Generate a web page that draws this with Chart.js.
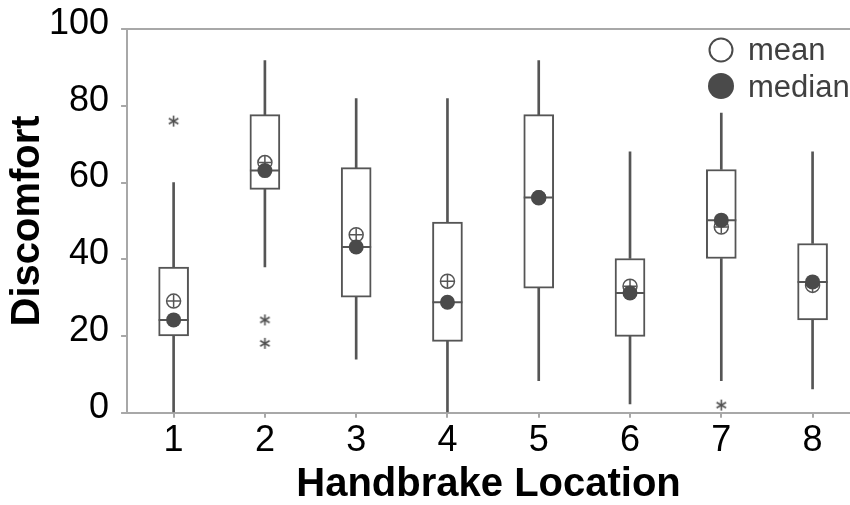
<!DOCTYPE html>
<html>
<head>
<meta charset="utf-8">
<script src="https://cdn.jsdelivr.net/npm/chart.js@4.4.1/dist/chart.umd.min.js"></script>
<style>
html,body{margin:0;padding:0;background:#fff;overflow:hidden;}
#wrap{width:850px;height:505px;overflow:hidden;}
#c{display:block;}
</style>
</head>
<body>
<div id="wrap"><canvas id="c" width="850" height="505"></canvas></div>
<script>
// ---- data ----
const categories  = ['1','2','3','4','5','6','7','8'];
const whiskerLow  = [0, 38, 14, 0, 8.4, 2.3, 8.4, 6.2];
const q1          = [20, 58.2, 30.1, 18.6, 32.5, 19.9, 40.2, 24.2];
const medians     = [24.2, 63.1, 43.2, 28.8, 56.1, 31.2, 50.2, 34.1];
const q3          = [38, 77.7, 63.9, 49.7, 77.7, 40.2, 63.4, 44.1];
const whiskerHigh = [60, 91.8, 81.9, 81.9, 91.8, 68, 78.1, 68];
const means       = [29.1, 65.2, 46.4, 34.3, 56.0, 33.0, 48.4, 33.2];
const outlierGroup = [1, 2, 2, 7];
const outlierValue = [76, 24.2, 18.1, 2];
const yTicks = [0, 20, 40, 60, 80, 100];

const INK = '#555555';
const DOT = '#4a4a4a';
const AXIS = '#a8a8a8';
const FONT = "'Liberation Sans', Arial, sans-serif";

const xs = categories.map((c, i) => i + 1);

// asterisk point style
function makeAsterisk(size, color) {
  const cv = document.createElement('canvas');
  cv.width = size; cv.height = size;
  const g = cv.getContext('2d');
  g.strokeStyle = color; g.lineWidth = 1.6; g.lineCap = 'butt';
  const c = size / 2, r = size / 2 - 1;
  for (const a of [90, 30, -30]) {
    const rad = a * Math.PI / 180;
    g.beginPath();
    g.moveTo(c - Math.cos(rad) * r, c - Math.sin(rad) * r);
    g.lineTo(c + Math.cos(rad) * r, c + Math.sin(rad) * r);
    g.stroke();
  }
  return cv;
}
const asterisk = makeAsterisk(13, '#505050');

const boxData = xs.map((x, i) => ({x, y: [q1[i], q3[i]]}));
const lowWhisk = xs.map((x, i) => ({x, y: [whiskerLow[i], q1[i]]}));
const highWhisk = xs.map((x, i) => ({x, y: [q3[i], whiskerHigh[i]]}));
const medPts = xs.map((x, i) => ({x, y: medians[i]}));
const meanPts = xs.map((x, i) => ({x, y: means[i]}));
const outPts = outlierGroup.map((g, i) => ({x: g, y: outlierValue[i]}));

const frameAndLegend = {
  id: 'frameAndLegend',
  afterDraw(chart) {
    const {ctx, chartArea} = chart;
    ctx.save();
    ctx.strokeStyle = AXIS; ctx.lineWidth = 2;
    ctx.beginPath();
    ctx.moveTo(chartArea.left - 1, chartArea.top);
    ctx.lineTo(chart.width, chartArea.top);
    ctx.stroke();
    // legend (anchored to the visible right edge)
    const cx = 721;
    ctx.strokeStyle = DOT; ctx.lineWidth = 2;
    ctx.fillStyle = '#fff';
    ctx.beginPath(); ctx.arc(cx, chartArea.top + 21, 11.5, 0, Math.PI * 2); ctx.fill(); ctx.stroke();
    ctx.fillStyle = DOT;
    ctx.beginPath(); ctx.arc(cx, chartArea.top + 57, 13, 0, Math.PI * 2); ctx.fill();
    ctx.fillStyle = '#404040';
    ctx.font = '31px ' + FONT;
    ctx.textBaseline = 'alphabetic';
    ctx.textAlign = 'left';
    ctx.fillText('mean', cx + 27, chartArea.top + 31);
    ctx.fillText('median', cx + 27, chartArea.top + 68);
    ctx.restore();
  }
};

const canvas = document.getElementById('c');
canvas.width = 867;

new Chart(canvas, {
  type: 'bar',
  data: {
    datasets: [
      { label: 'box', data: boxData, backgroundColor: '#ffffff', borderColor: INK,
        borderWidth: 2, borderSkipped: false, barThickness: 30, grouped: false, order: 6 },
      { label: 'lowWhisker', data: lowWhisk, backgroundColor: INK, borderWidth: 0,
        barThickness: 2, grouped: false, order: 7 },
      { label: 'highWhisker', data: highWhisk, backgroundColor: INK, borderWidth: 0,
        barThickness: 2, grouped: false, order: 7 },
      { type: 'scatter', label: 'medianLine', data: medPts, pointStyle: 'line',
        pointRadius: 15, borderColor: INK, borderWidth: 2, order: 5 },
      { type: 'scatter', label: 'mean', data: meanPts, pointStyle: 'circle',
        pointRadius: 7, backgroundColor: 'rgba(255,255,255,0)', borderColor: INK, borderWidth: 1.5, order: 4 },
      { type: 'scatter', label: 'meanPlus', data: meanPts, pointStyle: 'cross',
        pointRadius: 6.5, borderColor: INK, borderWidth: 1.5, order: 3 },
      { type: 'scatter', label: 'median', data: medPts, pointStyle: 'circle',
        pointRadius: 7.5, backgroundColor: DOT, borderColor: DOT, borderWidth: 0, order: 2 },
      { type: 'scatter', label: 'outlier', data: outPts, pointStyle: asterisk,
        pointRadius: 6, order: 1 }
    ]
  },
  options: {
    responsive: false,
    animation: false,
    events: [],
    layout: { padding: { top: 29, right: 0, left: 19, bottom: 0 } },
    plugins: { legend: { display: false }, tooltip: { enabled: false } },
    scales: {
      x: {
        type: 'linear', min: 0.49, max: 8.41, offset: false,
        afterBuildTicks: (axis) => { axis.ticks = xs.map(v => ({value: v})); },
        ticks: { callback: (v) => categories[Math.round(v) - 1], color: '#000',
                 font: { family: FONT, size: 36 }, padding: 2, maxRotation: 0, autoSkip: false },
        grid: { display: true, offset: false, drawOnChartArea: false, drawTicks: true, tickLength: 5, color: AXIS, lineWidth: 2 },
        border: { display: true, color: AXIS, width: 2 },
        title: { display: true, text: 'Handbrake Location', color: '#000',
                 font: { family: FONT, size: 40, weight: 'bold', lineHeight: 1.0 }, padding: { top: 0, bottom: 0 } }
      },
      y: {
        min: 0, max: 100,
        afterBuildTicks: (axis) => { axis.ticks = yTicks.map(v => ({value: v})); },
        ticks: { color: '#000', font: { family: FONT, size: 36, lineHeight: 0.888 }, padding: 12, labelOffset: -5 },
        grid: { display: true, offset: false, drawOnChartArea: false, drawTicks: true, tickLength: 6, color: AXIS, lineWidth: 2 },
        border: { display: true, color: AXIS, width: 2 },
        title: { display: true, text: 'Discomfort', color: '#000',
                 font: { family: FONT, size: 40, weight: 'bold', lineHeight: 0.45 }, padding: { top: 0, bottom: 0 } }
      }
    }
  },
  plugins: [frameAndLegend]
});
</script>
</body>
</html>
